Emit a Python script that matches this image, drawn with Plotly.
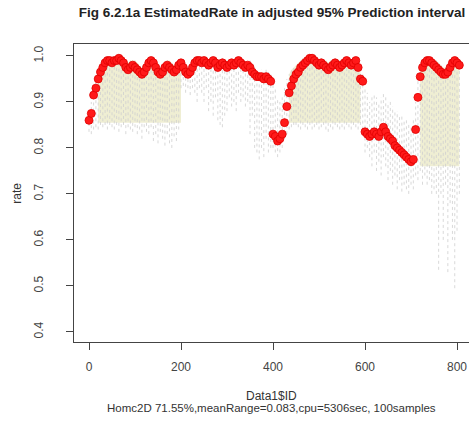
import plotly.graph_objects as go

# Sample IDs (every 5th ID)
ids = list(range(0, 806, 5))

# Estimated rate (red circles)
est = [
    0.86, 0.875, 0.915, 0.93, 0.95, 0.965, 0.975, 0.985, 0.99, 0.99,
    0.985, 0.99, 0.99, 0.995, 0.99, 0.985, 0.975, 0.97, 0.975, 0.98,
    0.975, 0.97, 0.965, 0.96, 0.965, 0.975, 0.985, 0.99, 0.985, 0.975,
    0.965, 0.96, 0.965, 0.975, 0.98, 0.975, 0.97, 0.965, 0.97, 0.98,
    0.985, 0.975, 0.965, 0.96, 0.965, 0.975, 0.985, 0.99, 0.99, 0.985,
    0.99, 0.985, 0.98, 0.985, 0.99, 0.985, 0.975, 0.98, 0.985, 0.98,
    0.975, 0.98, 0.985, 0.98, 0.985, 0.99, 0.985, 0.98, 0.975, 0.98,
    0.975, 0.965, 0.96, 0.955, 0.955, 0.955, 0.95, 0.955, 0.95, 0.945,
    0.83, 0.825, 0.815, 0.82, 0.83, 0.855, 0.89, 0.92, 0.935, 0.95,
    0.96, 0.965, 0.975, 0.98, 0.985, 0.99, 0.995, 0.995, 0.99, 0.985,
    0.98, 0.985, 0.98, 0.975, 0.97, 0.975, 0.98, 0.985, 0.98, 0.975,
    0.98, 0.985, 0.99, 0.985, 0.98, 0.985, 0.99, 0.975, 0.95, 0.945,
    0.835, 0.83, 0.825, 0.83, 0.835, 0.83, 0.825, 0.835, 0.845, 0.835,
    0.825, 0.82, 0.815, 0.805, 0.8, 0.795, 0.79, 0.785, 0.78, 0.775,
    0.77, 0.775, 0.84, 0.91, 0.955, 0.975, 0.985, 0.99, 0.99, 0.985,
    0.98, 0.975, 0.97, 0.965, 0.96, 0.96, 0.965, 0.975, 0.985, 0.99,
    0.985, 0.98,
]

# Upper end of each sample's prediction interval
upper = [
    0.88, 0.9, 0.93, 0.95, 0.965, 0.975, 0.985, 0.99, 0.995, 0.995,
    0.995, 0.998, 0.998, 0.998, 0.998, 0.995, 0.99, 0.985, 0.99, 0.99,
    0.99, 0.985, 0.98, 0.975, 0.98, 0.99, 0.995, 0.998, 0.995, 0.99,
    0.98, 0.975, 0.98, 0.985, 0.99, 0.99, 0.985, 0.98, 0.985, 0.99,
    0.995, 0.99, 0.98, 0.975, 0.98, 0.99, 0.995, 0.998, 0.998, 0.995,
    0.998, 0.995, 0.99, 0.995, 0.998, 0.995, 0.99, 0.99, 0.995, 0.99,
    0.99, 0.99, 0.995, 0.99, 0.995, 0.998, 0.995, 0.99, 0.99, 0.99,
    0.99, 0.98, 0.975, 0.97, 0.97, 0.97, 0.965, 0.97, 0.965, 0.96,
    0.95, 0.93, 0.91, 0.9, 0.91, 0.93, 0.95, 0.96, 0.97, 0.975,
    0.98, 0.985, 0.99, 0.995, 0.995, 0.998, 0.998, 0.998, 0.998, 0.995,
    0.99, 0.995, 0.99, 0.99, 0.985, 0.99, 0.99, 0.995, 0.99, 0.99,
    0.99, 0.995, 0.998, 0.995, 0.99, 0.995, 0.998, 0.99, 0.97, 0.96,
    0.93, 0.92, 0.9, 0.91, 0.92, 0.91, 0.9, 0.91, 0.92, 0.91,
    0.9, 0.9, 0.89, 0.88, 0.88, 0.87, 0.87, 0.86, 0.86, 0.85,
    0.85, 0.86, 0.9, 0.95, 0.98, 0.99, 0.995, 0.998, 0.998, 0.995,
    0.99, 0.99, 0.985, 0.98, 0.975, 0.975, 0.98, 0.985, 0.995, 0.998,
    0.995, 0.99,
]

# Lower end of each sample's prediction interval
lower = [
    0.835, 0.83, 0.84, 0.845, 0.84, 0.85, 0.845, 0.85, 0.84, 0.85,
    0.845, 0.84, 0.85, 0.835, 0.845, 0.85, 0.83, 0.845, 0.84, 0.835,
    0.845, 0.83, 0.84, 0.82, 0.845, 0.835, 0.83, 0.845, 0.815, 0.83,
    0.81, 0.835, 0.82, 0.805, 0.83, 0.81, 0.8, 0.825, 0.815, 0.84,
    0.93, 0.935, 0.92, 0.93, 0.915, 0.93, 0.92, 0.9, 0.93, 0.92,
    0.9, 0.93, 0.88, 0.9, 0.87, 0.91, 0.86, 0.85, 0.845, 0.87,
    0.88, 0.91, 0.89, 0.9, 0.88, 0.92, 0.9, 0.91, 0.89, 0.9,
    0.83, 0.87, 0.8, 0.79, 0.775, 0.8, 0.78, 0.82, 0.79, 0.8,
    0.8, 0.79, 0.78, 0.79, 0.8, 0.82, 0.83, 0.84, 0.845, 0.85,
    0.85, 0.845, 0.84, 0.85, 0.845, 0.84, 0.85, 0.84, 0.845, 0.85,
    0.84, 0.845, 0.85, 0.84, 0.835, 0.845, 0.84, 0.85, 0.845, 0.84,
    0.845, 0.84, 0.85, 0.845, 0.84, 0.85, 0.845, 0.84, 0.85, 0.84,
    0.79, 0.8, 0.78, 0.76, 0.79, 0.75, 0.77, 0.74, 0.78, 0.76,
    0.73, 0.75, 0.72, 0.74, 0.71, 0.73, 0.705, 0.72, 0.71, 0.7,
    0.72, 0.71, 0.74, 0.73, 0.75, 0.72, 0.74, 0.72, 0.73, 0.7,
    0.71, 0.7, 0.535, 0.7, 0.6, 0.72, 0.53, 0.68, 0.6, 0.495,
    0.62, 0.7,
]

# Adjusted-interval bands (beige): start ID, end ID, floor
band_start = [20, 435, 720]
band_end = [200, 590, 805]
band_floor = [0.855, 0.855, 0.76]

x_ticks = [0, 200, 400, 600, 800]
y_ticks = [0.4, 0.5, 0.6, 0.7, 0.8, 0.9, 1.0]

fig = go.Figure()

# beige bands
for s, e, f in zip(band_start, band_end, band_floor):
    xs = [i for i in ids if s <= i <= e]
    ys = [u for i, u in zip(ids, upper) if s <= i <= e]
    fig.add_trace(go.Scatter(
        x=xs + xs[::-1], y=ys + [f] * len(xs),
        fill="toself", fillcolor="#EFEED3", mode="lines",
        line=dict(width=0), hoverinfo="skip", showlegend=False))

# grey dotted interval lines
lx, ly = [], []
for i, lo, up in zip(ids, lower, upper):
    lx += [i, i, None]
    ly += [lo, up, None]
fig.add_trace(go.Scatter(
    x=lx, y=ly, mode="lines",
    line=dict(color="#CFCFCF", width=0.8, dash="dot"),
    hoverinfo="skip", showlegend=False))

# red estimated rates
fig.add_trace(go.Scatter(
    x=ids, y=est, mode="markers",
    marker=dict(symbol="circle", size=8, color="#FF1A1A",
                line=dict(width=0.8, color="#E00000")),
    showlegend=False))

font_family = "Liberation Sans, Arial, sans-serif"
axis_col = "#444444"

fig.update_layout(
    width=469, height=421,
    margin=dict(l=74, r=0, t=44, b=79),
    paper_bgcolor="white", plot_bgcolor="white",
    font=dict(family=font_family, size=12, color="#333333"),
    title=dict(text="<b>Fig 6.2.1a EstimatedRate in adjusted 95% Prediction interval</b>",
               x=0.58, xanchor="center", y=0.97, yanchor="middle",
               font=dict(size=13.5, color="#222222")),
    xaxis=dict(range=[-32.6, 826], tickvals=x_ticks, ticks="outside", ticklen=7,
               tickcolor=axis_col, showline=True, linecolor=axis_col, linewidth=1,
               mirror=True, showgrid=False, zeroline=False, ticklabelstandoff=7,
               tickfont=dict(size=12, color="#444444")),
    yaxis=dict(range=[0.378, 1.026], tickvals=y_ticks, ticktext=["0.4", "0.5", "0.6", "0.7", "0.8", "0.9", "1.0"],
               ticks="outside", ticklen=7, tickangle=-90,
               tickcolor=axis_col, showline=True, linecolor=axis_col, linewidth=1,
               showgrid=False, zeroline=False, ticklabelstandoff=18,
               tickfont=dict(size=12, color="#444444")),
)

fig.add_annotation(text="Data1$ID", xref="paper", yref="paper", x=0.5, y=-0.18,
                   showarrow=False, xanchor="center", yanchor="middle",
                   font=dict(size=12, color="#333333"))
fig.add_annotation(text="Homc2D 71.55%,meanRange=0.083,cpu=5306sec, 100samples",
                   xref="paper", yref="paper", x=0.5, y=-0.222,
                   showarrow=False, xanchor="center", yanchor="middle",
                   font=dict(size=11.5, color="#333333"))
fig.add_annotation(text="rate", xref="paper", yref="paper", x=-0.145, y=0.5,
                   showarrow=False, textangle=-90, xanchor="center", yanchor="middle",
                   font=dict(size=12, color="#333333"))

fig.write_html("out.html")
